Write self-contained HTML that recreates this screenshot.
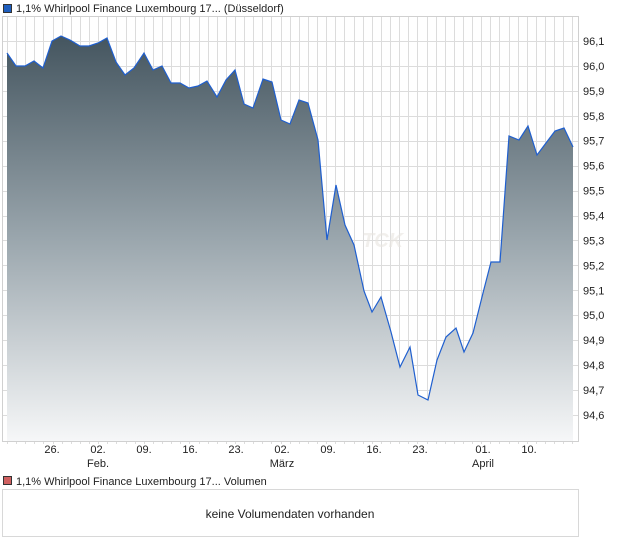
<!DOCTYPE html>
<html><head><meta charset="utf-8"><style>
body{margin:0;background:#fff;width:620px;height:546px;overflow:hidden;font-family:"Liberation Sans",sans-serif;}
</style></head><body>
<svg width="620" height="546" xmlns="http://www.w3.org/2000/svg" font-family="Liberation Sans, sans-serif">
<defs>
<linearGradient id="g" gradientUnits="userSpaceOnUse" x1="0" y1="36" x2="0" y2="441">
<stop offset="0" stop-color="#44555f"/>
<stop offset="0.5" stop-color="#9aa6ad"/>
<stop offset="1" stop-color="#f6f7f8"/>
</linearGradient>
</defs>
<rect x="3.5" y="4.5" width="8" height="8" fill="#1f5fbf" stroke="#333" stroke-width="1"/>
<text x="16" y="12" font-size="11" fill="#222">1,1% Whirlpool Finance Luxembourg 17... (Düsseldorf)</text>
<g stroke="#dcdcdc" stroke-width="1" id="grid"></g>
<path id="area" fill="url(#g)"/>
<path id="line" fill="none" stroke="#1f5fcf" stroke-width="1.2"/>
<text x="362" y="247" font-size="20" font-style="italic" font-weight="bold" fill="#e8e4e0" fill-opacity="0.6">TCK</text>
<rect x="2.5" y="16.5" width="576" height="425" fill="none" stroke="#d0d0d0"/>
<g font-size="11" fill="#222" id="ylab"></g>
<g font-size="11" fill="#222" text-anchor="middle">
<text x="52" y="453">26.</text><text x="98" y="453">02.</text><text x="98" y="467">Feb.</text>
<text x="144" y="453">09.</text><text x="190" y="453">16.</text><text x="236" y="453">23.</text>
<text x="282" y="453">02.</text><text x="282" y="467">März</text>
<text x="328" y="453">09.</text><text x="374" y="453">16.</text><text x="420" y="453">23.</text>
<text x="483" y="453">01.</text><text x="483" y="467">April</text><text x="529" y="453">10.</text>
</g>
<rect x="3.5" y="476.5" width="8" height="8" fill="#d06060" stroke="#333" stroke-width="1"/>
<text x="16" y="485" font-size="11" fill="#222">1,1% Whirlpool Finance Luxembourg 17... Volumen</text>
<rect x="2.5" y="489.5" width="576" height="47" fill="none" stroke="#d8d8d8"/>
<text x="290" y="518" font-size="12" fill="#222" text-anchor="middle">keine Volumendaten vorhanden</text>
</svg>
<script>
var ns="http://www.w3.org/2000/svg";
var g=document.getElementById('grid');
function ln(x1,y1,x2,y2){var l=document.createElementNS(ns,'line');l.setAttribute('x1',x1);l.setAttribute('y1',y1);l.setAttribute('x2',x2);l.setAttribute('y2',y2);g.appendChild(l);}
for(var x=7;x<578;x+=9.12){var xx=Math.round(x)+0.5;ln(xx,17,xx,441);}
var yl=document.getElementById('ylab');
for(var i=0;i<=15;i++){var v=96.1-i*0.1;var y=41+i*24.93;var yy=Math.round(y)+0.5;ln(3,yy,578,yy);
var t=document.createElementNS(ns,'text');t.setAttribute('x',583);t.setAttribute('y',y+4);t.textContent=v.toFixed(1).replace('.',',');yl.appendChild(t);}
for(var x=7;x<578;x+=9.12){var xx=Math.round(x)+0.5;ln(xx,441,xx,444);}
var p=[[7,53],[16,66],[25,66],[34,61],[43,68],[52,41],[61,36],[70,40],[80,46],[89,46],[98,43],[107,38],[116,62],[125,75],[134,68],[144,53],[153,70],[162,66],[171,83],[180,83],[189,88],[198,86],[207,81],[217,97],[226,80],[235,70],[244,104],[253,108],[263,79],[272,82],[281,120],[290,124],[299,100],[308,103],[318,140],[327,240],[336,185],[345,225],[354,245],[364,291],[372,312],[381,297],[391,332],[400,367],[410,347],[418,395],[428,400],[437,360],[446,337],[456,328],[464,352],[473,333],[483,293],[491,262],[500,262],[509,136],[519,140],[528,126],[537,155],[546,143],[555,131],[564,128],[573,147]];
var d=p.map(function(q,i){return (i?'L':'M')+q[0]+','+q[1];}).join('');
document.getElementById('line').setAttribute('d',d);
document.getElementById('area').setAttribute('d',d+'L573,441L7,441Z');
</script>
</body></html>
